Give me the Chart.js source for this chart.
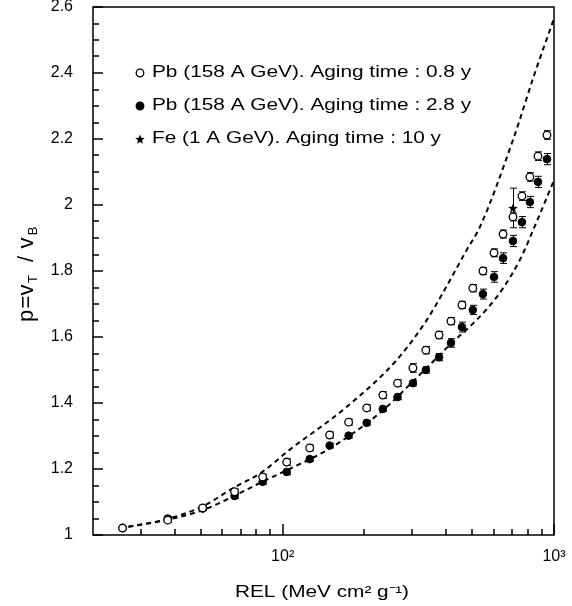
<!DOCTYPE html>
<html>
<head>
  <title>Reduced etch rate vs REL</title>
  <script src="https://cdn.jsdelivr.net/npm/chart.js"></script>
  <style>
    body {
      margin: 0;
      background: white;
    }
    canvas {
      display: block;
    }
  </style>
</head>
<body>

  <canvas id="relChart" width="572" height="606"></canvas>

  <script>
    // REL values (MeV cm2 g-1) shared by both Pb series
    const relX = [25.7, 37.7, 50.7, 66.5, 84.4, 103.5, 125.8, 149, 175, 204, 234, 265, 302, 337, 377, 417, 458, 502, 547, 601, 649, 706, 762, 815, 873, 942];

    // Pb 158 A GeV, aging 0.8 y (open circles)
    const pbYoungY = [1.021, 1.045, 1.082, 1.131, 1.176, 1.221, 1.264, 1.303, 1.342, 1.385, 1.424, 1.460, 1.506, 1.560, 1.606, 1.648, 1.697, 1.748, 1.800, 1.855, 1.912, 1.964, 2.027, 2.085, 2.148, 2.212];
    const pbYoungErr = [0.005, 0.006, 0.006, 0.008, 0.008, 0.010, 0.009, 0.009, 0.009, 0.009, 0.010, 0.010, 0.013, 0.011, 0.011, 0.011, 0.011, 0.011, 0.011, 0.012, 0.012, 0.012, 0.013, 0.013, 0.013, 0.013];

    // Pb 158 A GeV, aging 2.8 y (filled circles)
    const pbOldY = [1.021, 1.050, 1.080, 1.118, 1.161, 1.191, 1.230, 1.271, 1.301, 1.340, 1.382, 1.418, 1.460, 1.500, 1.539, 1.582, 1.630, 1.682, 1.730, 1.782, 1.839, 1.891, 1.948, 2.009, 2.070, 2.139];
    const pbOldErr = [0.004, 0.006, 0.006, 0.007, 0.007, 0.008, 0.007, 0.007, 0.007, 0.007, 0.007, 0.008, 0.008, 0.009, 0.011, 0.013, 0.015, 0.014, 0.015, 0.016, 0.016, 0.017, 0.017, 0.017, 0.017, 0.017];

    // Fe 1 A GeV, aging 10 y (star)
    const feX = [706];
    const feY = [1.991];
    const feErr = [0.06];

    // dashed calibration curves
    const upperX = [27, 37, 51, 65, 84, 106, 172, 263, 340, 389, 477, 533, 706, 850, 1000];
    const upperY = [1.025, 1.047, 1.088, 1.140, 1.191, 1.258, 1.388, 1.530, 1.652, 1.733, 1.864, 1.933, 2.197, 2.400, 2.565];
    const lowerX = [27, 37, 51, 65, 84, 104, 149, 228, 324, 424, 490, 566, 649, 750, 866, 1000];
    const lowerY = [1.025, 1.045, 1.076, 1.115, 1.161, 1.197, 1.262, 1.370, 1.490, 1.585, 1.632, 1.685, 1.748, 1.835, 1.952, 2.075];

    // axis tick positions
    const xMajorTicks = [100, 1000];
    const xMinorTicks = [30, 40, 50, 60, 70, 80, 90, 200, 300, 400, 500, 600, 700, 800, 900];
    const yMajorTicks = [1, 1.2, 1.4, 1.6, 1.8, 2, 2.2, 2.4, 2.6];
    const yMinorStep = 0.05;

    const legendLabels = [
      'Pb (158 A GeV). Aging time : 0.8 y',
      'Pb (158 A GeV). Aging time : 2.8 y',
      'Fe (1 A GeV). Aging time : 10 y'
    ];
    const xTickLabels = { 100: '10\u00B2', 1000: '10\u00B3' };
    const xTitle = 'REL (MeV cm\u00B2 g\u207B\u00B9)';

    const FONT = "'Liberation Sans', Arial, sans-serif";
    const STRETCH = 1.3;

    function makeStar(size) {
      const c = document.createElement('canvas');
      c.width = size;
      c.height = size;
      const g = c.getContext('2d');
      g.beginPath();
      for (let i = 0; i < 10; i++) {
        const r = i % 2 ? size * 0.22 : size * 0.5;
        const a = -Math.PI / 2 + i * Math.PI / 5;
        const px = size / 2 + r * Math.cos(a);
        const py = size / 2 + 0.6 + r * Math.sin(a);
        if (i === 0) g.moveTo(px, py); else g.lineTo(px, py);
      }
      g.closePath();
      g.fillStyle = '#000';
      g.fill();
      return c;
    }
    const starImg = makeStar(10);

    const toPoints = (xs, ys) => xs.map((x, i) => ({ x: x, y: ys[i] }));

    const errorBars = {
      id: 'errorBars',
      beforeDatasetsDraw(chart) {
        const ctx = chart.ctx;
        const xs = chart.scales.x, ys = chart.scales.y;
        ctx.save();
        ctx.setLineDash([]);
        ctx.strokeStyle = '#000';
        ctx.lineWidth = 1;
        chart.data.datasets.forEach(ds => {
          if (!ds.errorBars) return;
          ds.data.forEach((p, j) => {
            const e = ds.errorBars[j];
            const px = Math.round(xs.getPixelForValue(p.x)) + 0.5;
            const top = ys.getPixelForValue(p.y + e);
            const bot = ys.getPixelForValue(p.y - e);
            ctx.beginPath();
            ctx.moveTo(px, top); ctx.lineTo(px, bot);
            ctx.moveTo(px - 3.5, top); ctx.lineTo(px + 3.5, top);
            ctx.moveTo(px - 3.5, bot); ctx.lineTo(px + 3.5, bot);
            ctx.stroke();
          });
        });
        ctx.restore();
      }
    };

    const frameAndText = {
      id: 'frameAndText',
      afterDraw(chart) {
        const ctx = chart.ctx;
        const a = chart.chartArea;
        const xs = chart.scales.x, ys = chart.scales.y;
        ctx.save();
        ctx.setLineDash([]);
        ctx.fillStyle = '#000';
        ctx.strokeStyle = '#000';

        // inward tick marks
        const nY = Math.round((ys.max - ys.min) / yMinorStep);
        for (let k = 0; k <= nY; k++) {
          const v = ys.min + k * yMinorStep;
          const major = yMajorTicks.some(m => Math.abs(m - v) < 1e-6);
          const py = Math.round(ys.getPixelForValue(v));
          ctx.fillRect(a.left, py - 0.75, major ? 10 : 6, 1.5);
        }
        xMinorTicks.forEach(v => {
          const px = Math.round(xs.getPixelForValue(v));
          ctx.fillRect(px - 0.75, a.bottom - 6, 1.5, 6);
        });
        xMajorTicks.forEach(v => {
          const px = Math.round(xs.getPixelForValue(v));
          ctx.fillRect(px - 0.75, a.bottom - 11, 1.5, 11);
        });

        // frame
        ctx.lineWidth = 1.5;
        ctx.strokeRect(a.left, a.top, a.right - a.left, a.bottom - a.top);

        // legend
        const rows = [73, 106, 139];
        chart.data.datasets.slice(0, 3).forEach((ds, i) => {
          const y = rows[i];
          if (i === 2) {
            ctx.drawImage(starImg, 140 - 5, y - 5);
          } else {
            ctx.beginPath();
            ctx.arc(140, y, 3.8, 0, Math.PI * 2);
            ctx.fillStyle = i === 0 ? '#fff' : '#000';
            ctx.fill();
            ctx.lineWidth = 1.3;
            ctx.stroke();
          }
          ctx.save();
          ctx.translate(152, y);
          ctx.scale(STRETCH, 1);
          ctx.fillStyle = '#000';
          ctx.font = '16px ' + FONT;
          ctx.textBaseline = 'middle';
          ctx.textAlign = 'left';
          ctx.fillText(ds.label, 0, 0);
          ctx.restore();
        });

        // x title
        ctx.save();
        ctx.translate(322, 593);
        ctx.scale(STRETCH, 1);
        ctx.fillStyle = '#000';
        ctx.font = '16px ' + FONT;
        ctx.textAlign = 'center';
        ctx.textBaseline = 'middle';
        ctx.fillText(xTitle, 0, 0);
        ctx.restore();

        // y title  p = vT / vB  (reads bottom to top)
        const pieces = [
          ['p', 316, 22, 0], ['=', 302, 22, 0], ['v', 290, 22, 0], ['T', 279, 13, 4],
          ['/', 259, 22, 0], ['v', 243, 22, 0], ['B', 231, 13, 4]
        ];
        ctx.save();
        ctx.translate(33, 0);
        ctx.rotate(-Math.PI / 2);
        ctx.fillStyle = '#000';
        ctx.textAlign = 'center';
        ctx.textBaseline = 'alphabetic';
        pieces.forEach(([s, yc, size, drop]) => {
          ctx.font = size + 'px ' + FONT;
          ctx.fillText(s, -yc, drop);
        });
        ctx.restore();

        ctx.restore();
      }
    };

    const curveStyle = {
      showLine: true,
      pointRadius: 0,
      borderColor: '#000',
      borderWidth: 2,
      borderDash: [5, 4],
      cubicInterpolationMode: 'monotone',
      fill: false
    };

    const ctx = document.getElementById('relChart').getContext('2d');
    const relChart = new Chart(ctx, {
      type: 'scatter',
      data: {
        datasets: [
          {
            label: legendLabels[0],
            data: toPoints(relX, pbYoungY),
            errorBars: pbYoungErr,
            pointStyle: 'circle',
            pointRadius: 3.8,
            pointBackgroundColor: '#fff',
            pointBorderColor: '#000',
            pointBorderWidth: 1.3
          },
          {
            label: legendLabels[1],
            data: toPoints(relX, pbOldY),
            errorBars: pbOldErr,
            pointStyle: 'circle',
            pointRadius: 3.8,
            pointBackgroundColor: '#000',
            pointBorderColor: '#000',
            pointBorderWidth: 1
          },
          {
            label: legendLabels[2],
            data: toPoints(feX, feY),
            errorBars: feErr,
            pointStyle: starImg
          },
          Object.assign({ label: 'upper curve', data: toPoints(upperX, upperY) }, curveStyle),
          Object.assign({ label: 'lower curve', data: toPoints(lowerX, lowerY) }, curveStyle)
        ]
      },
      options: {
        responsive: false,
        animation: false,
        layout: { padding: { top: 0, right: 18, left: 0, bottom: 0 } },
        plugins: {
          legend: { display: false },
          tooltip: { enabled: false }
        },
        scales: {
          x: {
            type: 'logarithmic',
            min: 20,
            max: 1000,
            grid: { display: false },
            border: { display: false },
            ticks: {
              autoSkip: false,
              maxRotation: 0,
              padding: 4,
              color: '#000',
              font: { family: FONT, size: 16 },
              callback: v => xTickLabels[v] || ''
            },
            afterFit: s => { s.height = 71; }
          },
          y: {
            min: 1,
            max: 2.6,
            grid: { display: false },
            border: { display: false },
            ticks: {
              stepSize: 0.2,
              autoSkip: false,
              padding: 12,
              color: '#000',
              font: { family: FONT, size: 16 },
              callback: v => {
                const r = Math.round(v * 10) / 10;
                return Number.isInteger(r) ? String(r) : r.toFixed(1);
              }
            },
            afterFit: s => {
              s.width = 93;
              s.paddingTop = 7;
              s.paddingBottom = 0;
            }
          }
        }
      },
      plugins: [errorBars, frameAndText]
    });
  </script>

</body>
</html>
